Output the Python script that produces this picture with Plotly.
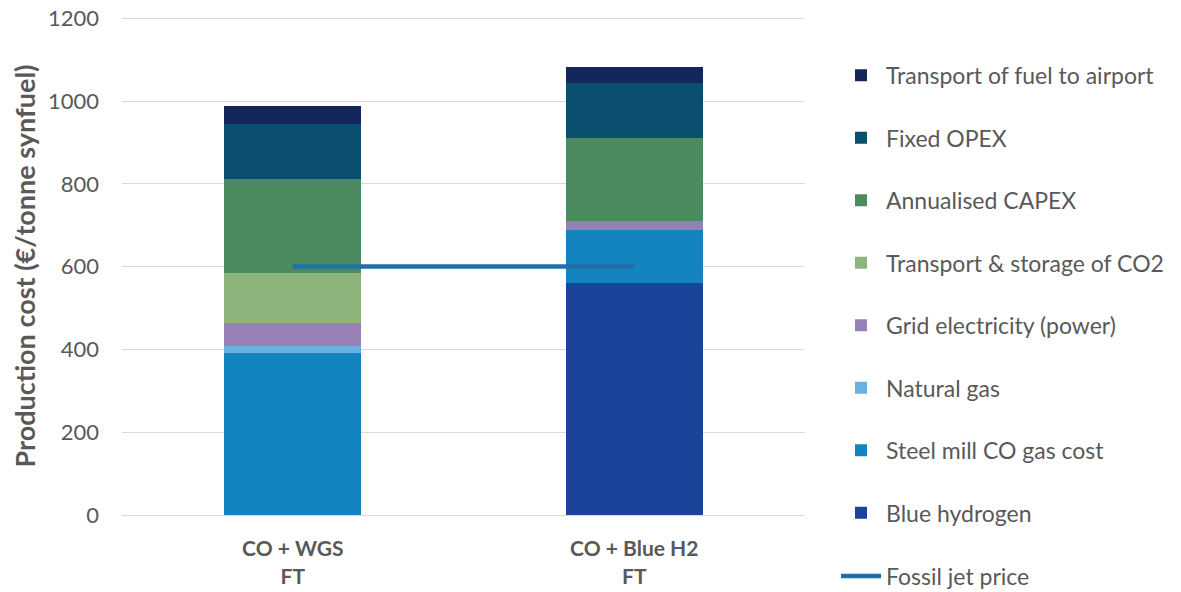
import plotly.graph_objects as go

# Data
categories = ['CO + WGS<br>FT', 'CO + Blue H2<br>FT']

blue_hydrogen = [0, 560]
steel_mill_co = [392, 129]
natural_gas = [16, 0]
grid_electricity = [55, 21]
co2_transport = [121, 0]
annualised_capex = [228, 200]
fixed_opex = [133, 133]
fuel_transport = [42, 39]
fossil_jet_price = [600, 600]

# stacked from bottom to top
components = [
    ('Blue hydrogen', blue_hydrogen, '#1b4399'),
    ('Steel mill CO gas cost', steel_mill_co, '#1484c0'),
    ('Natural gas', natural_gas, '#6cb0e0'),
    ('Grid electricity (power)', grid_electricity, '#9880b6'),
    ('Transport & storage of CO2', co2_transport, '#8db57b'),
    ('Annualised CAPEX', annualised_capex, '#4c8a5f'),
    ('Fixed OPEX', fixed_opex, '#0b4f6e'),
    ('Transport of fuel to airport', fuel_transport, '#13275c'),
]

font_family = 'Lato, Open Sans, sans-serif'
grey = '#595959'

fig = go.Figure()

for i, (name, values, color) in enumerate(components):
    fig.add_trace(go.Bar(
        x=categories,
        y=values,
        name=name,
        marker=dict(color=color, line=dict(width=0)),
        legendgroup=name,
        legendrank=len(components) - i,
    ))

# fossil jet reference line gets its own legend below the bar entries
fig.add_trace(go.Scatter(
    x=categories,
    y=fossil_jet_price,
    mode='lines',
    name='Fossil jet price',
    line=dict(color='#1f6fa8', width=4.5),
    legend='legend2',
))

legend_style = dict(
    x=1.0454,
    xanchor='left',
    font=dict(size=23, color=grey),
    itemwidth=40,
    bgcolor='rgba(0,0,0,0)',
)

# the page body adds an 8px offset, so the figure is 8px smaller than the window
fig.update_layout(
    barmode='stack',
    bargap=0.6,
    width=1173,
    height=584,
    margin=dict(l=114, r=376, t=9, b=77, autoexpand=False),
    plot_bgcolor='white',
    paper_bgcolor='white',
    font=dict(family=font_family, color=grey, size=20),
    legend=dict(
        y=0.926,
        yanchor='top',
        traceorder='grouped',
        tracegroupgap=29.6,
        **legend_style,
    ),
    legend2=dict(
        y=-0.1227,
        yanchor='middle',
        **legend_style,
    ),
)

# small headroom above 1200 so the top gridline is not clipped away
fig.update_yaxes(
    range=[0, 1203],
    tickvals=[0, 200, 400, 600, 800, 1000, 1200],
    showgrid=True,
    gridcolor='#d9d9d9',
    gridwidth=1,
    zeroline=False,
    showline=False,
    automargin=False,
    ticklabeloverflow='allow',
    tickfont=dict(size=22, color=grey),
    ticklabelstandoff=22,
    title=dict(text='<b>Production cost (€/tonne synfuel)</b>',
               font=dict(size=27, color=grey), standoff=5),
)

fig.update_xaxes(
    showline=True,
    linecolor='#d9d9d9',
    automargin=False,
    tickfont=dict(size=21, color=grey),
    tickprefix='<b>',
    ticksuffix='</b>',
    ticklabelstandoff=15,
)

fig.write_html("out.html")
